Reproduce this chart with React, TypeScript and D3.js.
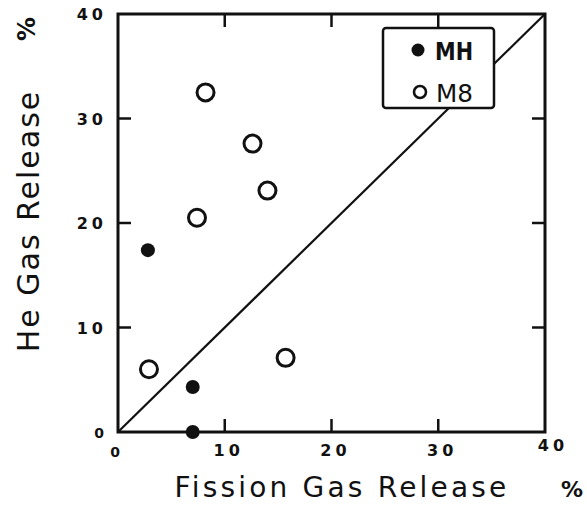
import React from "react";
import * as d3 from "d3";

const mhX = [2.8, 7.0, 7.0];
const mhY = [17.4, 4.3, 0.0];
const m8X = [8.2, 12.6, 14.0, 7.4, 2.9, 15.7];
const m8Y = [32.5, 27.6, 23.1, 20.5, 6.0, 7.1];
const ticks = [0, 10, 20, 30, 40];
const legendLabels = ["MH", "M8"];

export default function App() {
  const W = 587, H = 526;
  const left = 118, right = 545, top = 14, bottom = 432;
  const x = d3.scaleLinear().domain([0, 40]).range([left, right]);
  const y = d3.scaleLinear().domain([0, 40]).range([bottom, top]);
  const tl = 13;
  const font = "'DejaVu Sans', sans-serif";
  const line = d3.line<number>().x((d) => x(d)).y((d) => y(d));
  return (
    <svg width={W} height={H} style={{ position: "absolute", left: 0, top: 0 }}>
      <rect width={W} height={H} fill="#fff" />
      <path d={line([0, 40]) || ""} stroke="#111" strokeWidth={2.2} fill="none" />
      <rect x={left} y={top} width={right - left} height={bottom - top} fill="none" stroke="#111" strokeWidth={3} />
      {ticks.slice(1, 4).map((t) => (
        <g key={t}>
          <line x1={x(t)} x2={x(t)} y1={bottom} y2={bottom - tl} stroke="#111" strokeWidth={2.5} />
          <line x1={x(t)} x2={x(t)} y1={top} y2={top + tl} stroke="#111" strokeWidth={2.5} />
          <line x1={left} x2={left + tl} y1={y(t)} y2={y(t)} stroke="#111" strokeWidth={2.5} />
          <line x1={right} x2={right - tl} y1={y(t)} y2={y(t)} stroke="#111" strokeWidth={2.5} />
        </g>
      ))}
      {ticks.map((t) => (
        <text key={"xl" + t} x={x(t) + (t === 0 ? -3 : t === 40 ? 6 : 2) + 2} y={t === 0 ? 457 : t === 40 ? 451 : 456} textAnchor="middle"
          fontFamily={font} fontWeight="bold" fontSize={t === 0 ? 14 : 16} letterSpacing={4} fill="#111">{t}</text>
      ))}
      {ticks.map((t) => (
        <text key={"yl" + t} x={t === 0 ? 108 : 107} y={y(t) + 6} textAnchor="end"
          fontFamily={font} fontWeight="bold" fontSize={t === 0 ? 14 : 16} letterSpacing={4} fill="#111">{t}</text>
      ))}
      <rect x={383} y={28} width={111} height={80} rx={3} fill="#fff" stroke="#111" strokeWidth={2.5} />
      <circle cx={418} cy={50} r={6.5} fill="#111" />
      <text x={435} y={60} fontFamily={font} fontSize={24} fontWeight="bold" textLength={38} lengthAdjust="spacingAndGlyphs" fill="#111">{legendLabels[0]}</text>
      <circle cx={420} cy={92} r={6} fill="#fff" stroke="#111" strokeWidth={2.6} />
      <text x={436} y={102} fontFamily={font} fontSize={24} textLength={37} lengthAdjust="spacingAndGlyphs" fill="#111">{legendLabels[1]}</text>
      {mhX.map((v, i) => (
        <circle key={"mh" + i} cx={x(v)} cy={y(mhY[i])} r={7} fill="#111" />
      ))}
      {m8X.map((v, i) => (
        <circle key={"m8" + i} cx={x(v)} cy={y(m8Y[i])} r={8.5} fill="#fff" stroke="#111" strokeWidth={3} />
      ))}
      <text x={342} y={497} textAnchor="middle" fontFamily={font} fontSize={28} letterSpacing={3.2} fill="#111">Fission Gas Release</text>
      <text x={572} y={497} textAnchor="middle" fontFamily={font} fontSize={22} fontWeight="bold" fill="#111">%</text>
      <text transform="translate(39,221) rotate(-90)" textAnchor="middle" fontFamily={font} fontSize={30} letterSpacing={2} fill="#111">He Gas Release</text>
      <text transform="translate(35,29) rotate(-90)" textAnchor="middle" fontFamily={font} fontSize={24} fontWeight="bold" fill="#111">%</text>
    </svg>
  );
}
